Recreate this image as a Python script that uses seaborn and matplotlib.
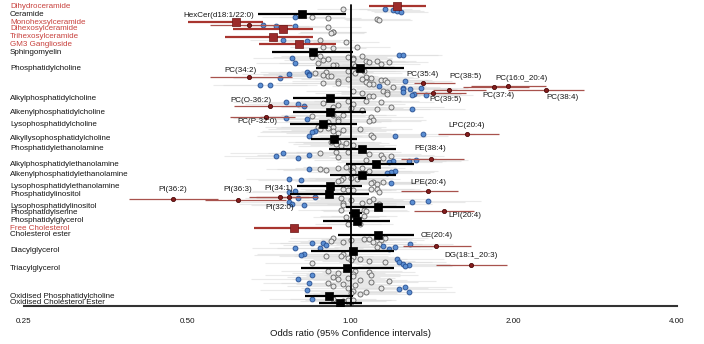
import numpy as np
import pandas as pd
import matplotlib
matplotlib.use("Agg")
import matplotlib.pyplot as plt
import seaborn as sns
from matplotlib import transforms
from matplotlib.ticker import FixedLocator, FixedFormatter, NullLocator

# ---------------- data ----------------
CLASSES = ["Dihydroceramide", "Ceramide", "Monohexsylceramide", "Dihexosylceramide",
           "Trihexosylceramide", "GM3 Ganglioside", "Sphingomyelin", "Phosphatidylcholine",
           "Alkylphosphatidylcholine", "Alkenylphosphatidylcholine", "Lysophosphatidylcholine",
           "Alkyllysophosphatidylcholine", "Phosphatidylethanolamine",
           "Alkylphosphatidylethanolamine", "Alkenylphosphatidylethanolamine",
           "Lysophosphatidylethanolamine", "Phosphatidylinositol", "Lysophosphatidylinositol",
           "Phosphatidylserine", "Phosphatidylglycerol", "Free Cholesterol", "Cholesterol ester",
           "Diacylglycerol", "Triacylglycerol", "Oxidised Phosphatidylcholine",
           "Oxidised Cholesterol Ester"]
CLASS_SIG = [1, 0, 1, 1, 1, 1, 0, 0, 0, 0, 0, 0, 0, 0, 0, 0, 0, 0, 0, 0, 1, 0, 0, 0, 0, 0]
CLASS_OR = [1.22, 0.815, 0.616, 0.752, 0.721, 0.802, 0.851, 1.043, 0.918, 0.918, 0.891, 0.934,
            1.052, 1.112, 1.048, 0.915, 0.911, 1.122, 1.021, 1.030, 0.788, 1.122, 1.009, 0.987,
            0.911, 0.958]
CLASS_LO = [1.08, 0.676, 0.502, 0.608, 0.588, 0.679, 0.718, 0.865, 0.785, 0.785, 0.775, 0.844,
            0.911, 0.979, 0.918, 0.798, 0.775, 0.979, 0.992, 0.891, 0.665, 0.950, 0.844, 0.809,
            0.826, 0.876]
CLASS_HI = [1.38, 0.983, 0.691, 0.854, 0.851, 0.942, 1.009, 1.253, 1.066, 1.066, 1.030, 1.030,
            1.211, 1.307, 1.211, 1.052, 1.080, 1.263, 1.052, 1.185, 0.926, 1.307, 1.201, 1.201,
            1.009, 1.052]
# typical species CI ratio (upper/OR) per class
SPECIES_CI = [1.12, 1.15, 1.15, 1.15, 1.15, 1.15, 1.18, 1.22, 1.25, 1.25, 1.25, 1.20, 1.25,
              1.20, 1.20, 1.20, 1.25, 1.20, 1.15, 1.15, 1.15, 1.20, 1.22, 1.22, 1.20, 1.15]

# species odds ratios per class (g = n.s., b = nominal p<0.05, r = significant)
or_dhcer = [0.97, 1.16, 1.20, 1.22, 1.24]; cat_dhcer = "gbbbb"
or_cer = [0.79, 0.85, 0.91, 1.12, 1.13]; cat_cer = "bgggg"
or_hex = [0.69, 0.65, 0.79, 0.73, 0.91]; cat_hex = "brbbg"
or_hex2 = [0.93, 0.93, 0.92]; cat_hex2 = "ggg"
or_hex3 = [0.75, 0.88, 0.83, 0.98]; cat_hex3 = "bgbg"
or_gm3 = [0.89, 1.03, 0.93]; cat_gm3 = "ggg"
or_sm = [1.23, 1.25, 0.88, 1.05, 0.85, 0.99, 0.78, 1.01, 1.01, 0.91, 0.89, 1.07, 1.12, 1.18,
         1.08, 0.87, 0.79, 1.14, 1.01, 0.94, 0.93, 1.02]
cat_sm = "bbggggbgggggggggbggggg"
or_pc = [1.01, 0.99, 1.06, 0.83, 0.90, 1.02, 0.86, 0.84, 0.77, 0.89, 0.84, 0.91, 0.92, 1.07,
         0.65, 1.09, 0.74, 0.99, 1.05, 1.14, 1.16, 0.95, 1.26, 1.07, 1.17, 0.89, 0.95, 1.36,
         1.10, 1.08, 0.68, 0.71, 1.95, 1.13, 1.20, 1.84, 1.25, 1.35, 1.25, 1.29, 1.52, 2.29,
         1.01, 1.15, 1.17, 1.25, 1.42, 1.05, 1.31, 1.17, 1.30, 1.38, 1.08, 1.10]
cat_pc = "gggbgggbbgbgggrgbgggggbggggrggbbrbgrbbbbrrgggbrgbgbbgg"
or_pco = [0.99, 1.07, 1.14, 0.76, 0.89, 0.80, 1.01, 0.95, 0.82, 0.71, 0.93, 1.19, 1.00, 1.12,
          1.30, 1.05]
cat_pco = "gggbgbggbrggggbg"
or_pcp = [0.97, 0.93, 0.85, 0.70, 1.09, 0.76, 0.83, 0.95, 1.10, 1.08, 0.95, 0.91]
cat_pcp = "gggrgbbggggg"
or_lpc = [0.87, 0.93, 0.91, 1.04, 0.88, 0.97, 0.86, 0.93, 0.85, 0.95, 1.36, 1.64, 1.09, 0.84,
          1.21, 1.10]
cat_lpc = "ggggggbgbgbrgbbg"
or_lpco = [0.92, 0.95, 0.98, 0.94, 1.01, 0.96]; cat_lpco = "gggggg"
or_pe = [0.94, 0.99, 0.75, 0.88, 1.08, 1.14, 0.84, 1.19, 0.73, 0.95, 0.80, 1.15, 1.41, 1.32,
         1.07, 1.20, 1.28, 1.18]
cat_pe = "ggbgggbgbgbgrbgbbb"
or_peo = [0.98, 1.01, 1.05, 0.95, 0.84, 0.88, 0.90, 1.00, 1.08, 1.21, 1.19, 1.01, 1.17]
cat_peo = "ggggbggggbbgb"
or_pep = [0.97, 1.00, 0.77, 1.03, 0.96, 0.81, 0.95, 1.10, 1.15, 1.09, 1.19, 1.12]
cat_pep = "ggbggbggggbg"
or_lpe = [1.09, 0.97, 1.12, 0.99, 1.01, 0.79, 1.39, 0.77, 1.13]; cat_lpe = "gggggbrbg"
or_pi = [0.86, 0.77, 0.74, 0.80, 0.96, 1.10, 0.47, 0.62, 1.00, 1.08, 1.39, 1.30, 0.77, 0.97,
         1.05, 1.13, 0.78, 0.97, 0.82]
cat_pi = "brrbggrrggbbbgggbgb"
or_lpi = [1.06, 0.96, 1.49, 1.07]; cat_lpi = "ggrg"
or_ps = [1.01, 1.06, 0.98]; cat_ps = "ggg"
or_pg = [0.99, 1.04]; cat_pg = "gg"
or_fc = []; cat_fc = ""
or_ce = [1.16, 0.93, 1.06, 1.08, 1.14, 1.00, 0.92, 0.97, 1.10, 0.85, 0.89, 1.13, 1.29, 0.90,
         1.44, 1.15, 1.12, 1.21, 0.88, 0.79, 1.18]
cat_ce = "gggggggggbbgbbrbgbbbb"
or_dg = [0.97, 0.82, 0.81, 0.90, 0.96, 1.01, 0.99, 1.04, 1.22, 1.00, 1.08, 1.16, 1.23, 0.85,
         1.25, 1.67, 1.28, 1.26]
cat_dg = "gbbgggggbgggbgbrbb"
or_tg = [0.91, 1.02, 1.08, 0.95, 1.01, 0.85, 1.09, 1.01, 0.93, 0.99, 0.95, 0.80, 1.04, 1.18,
         1.09, 0.84, 0.91, 0.97, 1.02, 0.93, 1.26, 0.99, 1.14, 1.23, 0.83, 1.01, 1.07, 1.28,
         1.00, 1.04]
cat_tg = "gggggbgggggbgggbggggbggbbggbgg"
or_oxpc = [0.85, 0.93, 0.99, 1.01, 0.97]; cat_oxpc = "bgggg"
or_oxce = [0.99, 1.00]; cat_oxce = "gg"

SPECIES_OR = [or_dhcer, or_cer, or_hex, or_hex2, or_hex3, or_gm3, or_sm, or_pc, or_pco, or_pcp,
              or_lpc, or_lpco, or_pe, or_peo, or_pep, or_lpe, or_pi, or_lpi, or_ps, or_pg,
              or_fc, or_ce, or_dg, or_tg, or_oxpc, or_oxce]
SPECIES_CAT = [cat_dhcer, cat_cer, cat_hex, cat_hex2, cat_hex3, cat_gm3, cat_sm, cat_pc,
               cat_pco, cat_pcp, cat_lpc, cat_lpco, cat_pe, cat_peo, cat_pep, cat_lpe, cat_pi,
               cat_lpi, cat_ps, cat_pg, cat_fc, cat_ce, cat_dg, cat_tg, cat_oxpc, cat_oxce]

# significant species (in order of appearance)
SIG_NAME = ["HexCer(d18:1/22:0)", "PC(34:2)", "PC(35:4)", "PC(16:0_20:4)", "PC(37:4)",
            "PC(38:5)", "PC(38:4)", "PC(39:5)", "PC(O-36:2)", "PC(P-32:0)", "LPC(20:4)",
            "PE(38:4)", "LPE(20:4)", "PI(34:1)", "PI(32:0)", "PI(36:2)", "PI(36:3)",
            "LPI(20:4)", "CE(20:4)", "DG(18:1_20:3)"]
SIG_LO = [0.55, 0.55, 1.31, 1.67, 1.61, 1.42, 1.95, 1.32, 0.61, 0.60, 1.45, 1.24, 1.24,
          0.67, 0.65, 0.39, 0.54, 1.31, 1.25, 1.44]
SIG_HI = [0.78, 0.78, 1.56, 2.29, 2.13, 1.78, 2.69, 1.63, 0.83, 0.79, 1.88, 1.62, 1.58,
          0.87, 0.84, 0.57, 0.76, 1.69, 1.67, 1.94]

# ---------------- layout ----------------
ROW_Y = [6, 14, 22, 29, 37, 44, 52, 68, 98, 112, 124, 139, 149, 164, 175, 186, 194, 207, 213,
         221, 228, 235, 251, 268, 296, 303]
LABEL_OFF = [(-30, -10), (-9, -7), (0, -9), (14, -7), (4, 8), (16, -13), (17, 7), (12, 7),
             (-19, -6), (-9, 5), (0, -9), (-1, -10), (0, -9), (-10, -8), (0, 10), (0, -10),
             (0, -10), (20, 5), (0, -10), (0, -9)]

FS = 5.8
RED_TXT = "#c8413d"
RED_SQ = "#9c2b2b"
RED_LINE = "#a8352f"
RED_SP_LINE = "#a8524d"
TXT = "#151515"

sns.set_theme(style="white")
plt.rcParams['font.family'] = ['Liberation Sans', 'DejaVu Sans']

# species table
rows = []
for ci, cname in enumerate(CLASSES):
    ors, cats = SPECIES_OR[ci], SPECIES_CAT[ci]
    n = len(ors)
    if n == 0:
        continue
    y0 = ROW_Y[ci] + 2.5
    y1 = (ROW_Y[ci + 1] - 2) if ci + 1 < len(CLASSES) else ROW_Y[ci] + 3.5
    step = min(0.9, (y1 - y0) / max(n - 1, 1))
    for k, (v, c) in enumerate(zip(ors, cats)):
        rows.append(dict(cls=cname, OR=v, cat=c, y=y0 + k * step, f=SPECIES_CI[ci]))
df = pd.DataFrame(rows)
sig = df[df.cat == "r"].copy().reset_index(drop=True)
sig["name"] = SIG_NAME
sig["lo"] = SIG_LO
sig["hi"] = SIG_HI

cls = pd.DataFrame(dict(cls=CLASSES, OR=CLASS_OR, lo=CLASS_LO, hi=CLASS_HI,
                        y=ROW_Y, red=CLASS_SIG))

fig = plt.figure(figsize=(7.04, 3.44), dpi=100)
ax = fig.add_axes([24 / 704, 1 - 306 / 344, (677 - 24) / 704, 306 / 344])
ax.set_xscale("log", base=2)

# faint species CIs
ns = df[df.cat != "r"]
ax.hlines(ns.y, ns.OR / ns.f, ns.OR * ns.f, color="#dcdcdc", lw=0.8, alpha=0.6, zorder=1)
# significant species CIs
ax.hlines(sig.y, sig.lo, sig.hi, color=RED_SP_LINE, lw=0.9, zorder=2.5)

# species points
sns.scatterplot(data=df[df.cat == "g"], x="OR", y="y", s=13, color="#e8e8e8",
                edgecolor="#6a6a6a", linewidth=0.65, ax=ax, zorder=2, legend=False)
sns.scatterplot(data=df[df.cat == "b"], x="OR", y="y", s=12, color="#5b8fd3",
                edgecolor="#2a5294", linewidth=0.65, ax=ax, zorder=2.2, legend=False)

# class summaries
blk = cls[cls.red == 0]
red = cls[cls.red == 1]
ax.hlines(blk.y, blk.lo, blk.hi, color="black", lw=1.6, zorder=3)
ax.hlines(red.y, red.lo, red.hi, color=RED_LINE, lw=1.6, zorder=3)
ax.axvline(1.0, ymin=0, ymax=1 - 5 / 306, color="black", lw=1.3, zorder=3.5)
sns.scatterplot(data=blk, x="OR", y="y", marker="s", s=28, color="black",
                edgecolor="black", linewidth=0.5, ax=ax, zorder=4, legend=False)
sns.scatterplot(data=red, x="OR", y="y", marker="s", s=28, color=RED_SQ,
                edgecolor="#6a1616", linewidth=0.5, ax=ax, zorder=4, legend=False)
sns.scatterplot(data=sig, x="OR", y="y", s=9, color="#861d1d", edgecolor="#4a0a0a",
                linewidth=0.6, ax=ax, zorder=5, legend=False)

for i, r in sig.iterrows():
    dx, dy = LABEL_OFF[i]
    ax.annotate(r["name"], xy=(r.OR, r.y), xytext=(dx, -dy), textcoords="offset pixels",
                ha="center", va="center", fontsize=FS, color=TXT, zorder=6)

trans = transforms.blended_transform_factory(fig.transFigure, ax.transData)
for ci, cname in enumerate(CLASSES):
    ax.text(10 / 704, ROW_Y[ci], cname, transform=trans, ha="left", va="center",
            fontsize=FS, color=RED_TXT if CLASS_SIG[ci] else TXT, clip_on=False)

ax.set_xlim(0.25, 4.0)
ax.set_ylim(306, 0)
ax.xaxis.set_major_locator(FixedLocator([0.25, 0.5, 1.0, 2.0, 4.0]))
ax.xaxis.set_major_formatter(FixedFormatter(["0.25", "0.50", "1.00", "2.00", "4.00"]))
ax.xaxis.set_minor_locator(NullLocator())
ax.set_yticks([])
ax.tick_params(axis="x", length=0, pad=8.5, labelsize=FS, labelcolor=TXT)
ax.set_xlabel("Odds ratio (95% Confidence intervals)", fontsize=6.8, labelpad=3,
              color=TXT)
ax.set_ylabel("")
for s in ["top", "right", "left"]:
    ax.spines[s].set_visible(False)
ax.spines["bottom"].set_color("#333333")
ax.spines["bottom"].set_linewidth(1.5)
ax.set_facecolor("white")
ax.grid(False)

fig.savefig("out.png", dpi=100)
